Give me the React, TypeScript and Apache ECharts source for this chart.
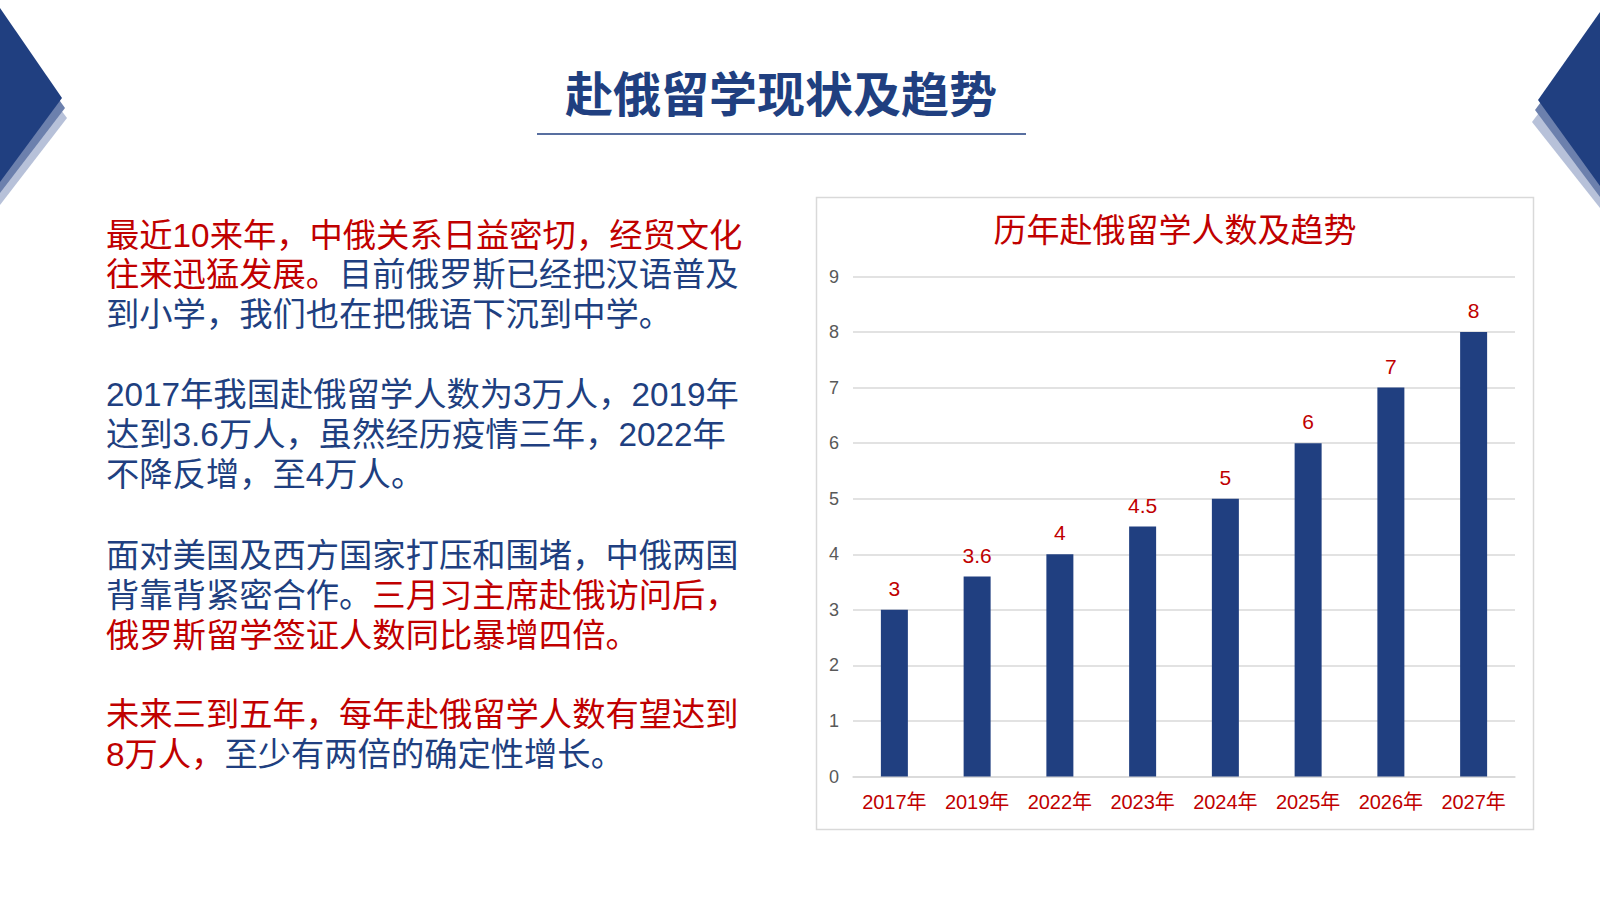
import React, { useEffect, useRef } from 'react';
import * as echarts from 'echarts';

// 年份与人数（万人）
const years = ['2017年', '2019年', '2022年', '2023年', '2024年', '2025年', '2026年', '2027年'];
const students = [3, 3.6, 4, 4.5, 5, 6, 7, 8];
const yMin = 0;
const yMax = 9;
const yStep = 1;

// 左侧文字，每行用 {r|..} 红色 / {b|..} 蓝色
const paragraphLines = [
  '{r|最近10来年，中俄关系日益密切，经贸文化}',
  '{r|往来迅猛发展。}{b|目前俄罗斯已经把汉语普及}',
  '{b|到小学，我们也在把俄语下沉到中学。}',
  '{b|2017年我国赴俄留学人数为3万人，2019年}',
  '{b|达到3.6万人，虽然经历疫情三年，2022年}',
  '{b|不降反增，至4万人。}',
  '{b|面对美国及西方国家打压和围堵，中俄两国}',
  '{b|背靠背紧密合作。}{r|三月习主席赴俄访问后，}',
  '{r|俄罗斯留学签证人数同比暴增四倍。}',
  '{r|未来三到五年，每年赴俄留学人数有望达到}',
  '{r|8万人，}{b|至少有两倍的确定性增长。}',
];
const lineY = [235, 274.5, 314, 394, 434, 474, 555, 595, 635, 714, 754];

const BLUE = '#203f80';
const RED = '#c00000';
const FONT = '"Liberation Sans", "Noto Sans CJK SC", sans-serif';

const App = () => {
  const chartRef = useRef(null);

  useEffect(() => {
    const chart = echarts.init(chartRef.current, null, { renderer: 'svg' });

    const textEls = paragraphLines.map((t, i) => ({
      type: 'text',
      x: 106,
      y: lineY[i],
      style: {
        text: t,
        fontSize: 33.3,
        fontFamily: FONT,
        verticalAlign: 'middle',
        rich: {
          r: { fill: RED, fontSize: 33.3, fontFamily: FONT },
          b: { fill: BLUE, fontSize: 33.3, fontFamily: FONT },
        },
      },
    }));

    const options = {
      animation: false,
      backgroundColor: '#ffffff',
      graphic: [
        // 左上角装饰
        { type: 'polygon', shape: { points: [[0, 28], [67, 118], [0, 205]] }, style: { fill: '#b7c1d9' } },
        { type: 'polygon', shape: { points: [[0, 18], [65, 108], [0, 193]] }, style: { fill: '#6c80ad' } },
        { type: 'polygon', shape: { points: [[0, 8], [62, 98], [0, 182]] }, style: { fill: BLUE } },
        // 右上角装饰
        { type: 'polygon', shape: { points: [[1600, 32], [1532, 122], [1600, 208]] }, style: { fill: '#b7c1d9' } },
        { type: 'polygon', shape: { points: [[1600, 22], [1535, 110], [1600, 197]] }, style: { fill: '#6c80ad' } },
        { type: 'polygon', shape: { points: [[1600, 12], [1538, 100], [1600, 186]] }, style: { fill: BLUE } },
        // 标题
        {
          type: 'text',
          x: 781,
          y: 91,
          style: {
            text: '赴俄留学现状及趋势',
            fill: BLUE,
            fontSize: 48,
            fontWeight: 'bold',
            fontFamily: '"Noto Sans CJK SC", sans-serif',
            align: 'center',
            verticalAlign: 'middle',
          },
        },
        { type: 'line', shape: { x1: 537, y1: 134, x2: 1026, y2: 134 }, style: { stroke: BLUE, lineWidth: 1.5 } },
        // 图表边框
        {
          type: 'rect',
          z: -1,
          shape: { x: 816.5, y: 197.5, width: 717, height: 632 },
          style: { fill: 'none', stroke: '#d9d9d9', lineWidth: 1.5 },
        },
        {
          type: 'text',
          x: 1175,
          y: 228,
          style: {
            text: '历年赴俄留学人数及趋势',
            fill: RED,
            fontSize: 33,
            fontFamily: '"Noto Sans CJK SC", sans-serif',
            align: 'center',
            verticalAlign: 'middle',
          },
        },
        ...textEls,
      ],
      grid: {
        left: 853,
        right: 85,
        top: 276.5,
        bottom: 122.5,
        containLabel: false,
      },
      xAxis: {
        type: 'category',
        data: years,
        axisLine: { show: true, lineStyle: { color: '#d9d9d9', width: 1.5 } },
        axisTick: { show: false },
        axisLabel: { interval: 0, color: RED, fontSize: 20, fontFamily: FONT, margin: 15 },
      },
      yAxis: {
        type: 'value',
        min: yMin,
        max: yMax,
        interval: yStep,
        axisLine: { show: false },
        axisTick: { show: false },
        axisLabel: { color: '#595959', fontSize: 18, fontFamily: FONT, margin: 14 },
        splitLine: { lineStyle: { color: '#d9d9d9', width: 1.5 } },
      },
      series: [
        {
          type: 'bar',
          data: students,
          barWidth: 27,
          itemStyle: { color: BLUE },
          label: {
            show: true,
            position: 'top',
            distance: 11,
            color: RED,
            fontSize: 21,
            fontFamily: FONT,
          },
        },
      ],
    };

    chart.setOption(options);

    const onResize = () => chart.resize();
    window.addEventListener('resize', onResize);
    return () => {
      window.removeEventListener('resize', onResize);
      chart.dispose();
    };
  }, []);

  return (
    <div
      ref={chartRef}
      style={{ position: 'fixed', left: 0, top: 0, width: '1600px', height: '899px' }}
    ></div>
  );
};

export default App;
